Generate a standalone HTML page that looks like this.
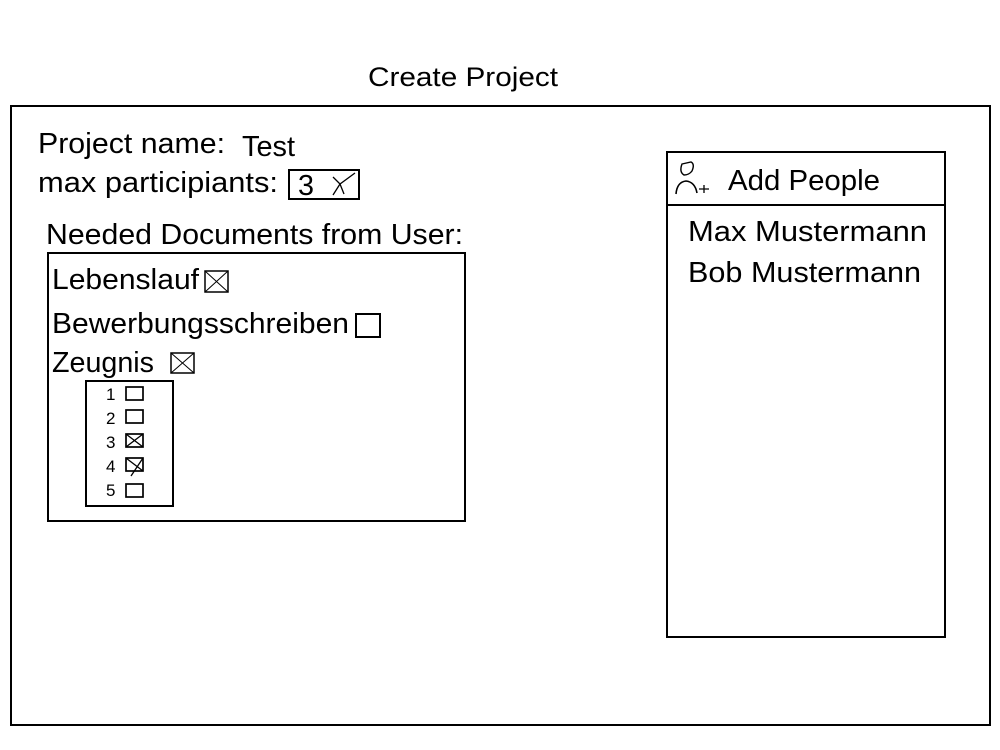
<!DOCTYPE html>
<html><head><meta charset="utf-8"><style>
html,body{margin:0;padding:0;background:#fff;}
svg{display:block;}
text{font-family:"Liberation Sans",sans-serif;fill:#000;}
</style></head><body>
<svg width="1000" height="750" viewBox="0 0 1000 750" xmlns="http://www.w3.org/2000/svg">
<rect x="0" y="0" width="1000" height="750" fill="#fff"/>
<text x="368" y="86" font-size="27" textLength="190" lengthAdjust="spacingAndGlyphs">Create Project</text>
<rect x="11" y="106" width="979" height="619" fill="none" stroke="#000" stroke-width="2"/>

<text x="38" y="153" font-size="29" textLength="187" lengthAdjust="spacingAndGlyphs">Project name:</text>
<text x="242" y="156" font-size="29" textLength="53" lengthAdjust="spacingAndGlyphs">Test</text>
<text x="38" y="192" font-size="29" textLength="240" lengthAdjust="spacingAndGlyphs">max participiants:</text>
<rect x="289" y="170" width="70" height="29" fill="none" stroke="#000" stroke-width="2"/>
<text x="298" y="195" font-size="29" textLength="16" lengthAdjust="spacingAndGlyphs">3</text>
<path d="M333 177 L340 184 L355 173 M340 184 L333 195 M340 184 L344 194" fill="none" stroke="#000" stroke-width="1.3"/>

<text x="46" y="244" font-size="29" textLength="417" lengthAdjust="spacingAndGlyphs">Needed Documents from User:</text>
<rect x="48" y="253" width="417" height="268" fill="none" stroke="#000" stroke-width="2"/>

<text x="52" y="289" font-size="29" textLength="147" lengthAdjust="spacingAndGlyphs">Lebenslauf</text>
<rect x="205" y="271" width="23" height="21" fill="none" stroke="#000" stroke-width="1.5"/>
<path d="M205 271 L228 292 M228 271 L205 292" stroke="#000" stroke-width="1"/>

<text x="52" y="333" font-size="29" textLength="297" lengthAdjust="spacingAndGlyphs">Bewerbungsschreiben</text>
<rect x="356" y="314" width="24" height="23" fill="none" stroke="#000" stroke-width="2"/>

<text x="52" y="372" font-size="29" textLength="102" lengthAdjust="spacingAndGlyphs">Zeugnis</text>
<rect x="171" y="353" width="23" height="20" fill="none" stroke="#000" stroke-width="1.5"/>
<path d="M171 353 L194 373 M194 353 L171 373" stroke="#000" stroke-width="1"/>

<rect x="86" y="381" width="87" height="125" fill="none" stroke="#000" stroke-width="2"/>
<g font-size="17">
<text x="106" y="400">1</text><text x="106" y="424">2</text><text x="106" y="448">3</text><text x="106" y="472">4</text><text x="106" y="496">5</text>
</g>
<g fill="none" stroke="#000" stroke-width="1.7">
<rect x="126" y="387" width="17" height="13"/>
<rect x="126" y="410" width="17" height="13"/>
<rect x="126" y="434" width="17" height="13"/>
<rect x="126" y="458" width="17" height="13"/>
<rect x="126" y="484" width="17" height="13"/>
</g>
<path d="M126 434 L143 447 M143 434 L126 447 M126 458 L143 471 M143 458 L131 476" stroke="#000" stroke-width="1.3" fill="none"/>

<rect x="667" y="152" width="278" height="485" fill="none" stroke="#000" stroke-width="2"/>
<line x1="667" y1="205" x2="945" y2="205" stroke="#000" stroke-width="2"/>
<path d="M682 164 L691 162 Q695 164 692 171 Q689 175 684 175 Q679 172 682 164 Z" fill="none" stroke="#000" stroke-width="1.4"/>
<path d="M676 194 Q677 182 686 181 Q695 182 697 193" fill="none" stroke="#000" stroke-width="1.6"/>
<path d="M699 189 L709 189 M704 185 L704 193" stroke="#000" stroke-width="1.3"/>
<text x="728" y="190" font-size="29" textLength="152" lengthAdjust="spacingAndGlyphs">Add People</text>
<text x="688" y="241" font-size="29" textLength="239" lengthAdjust="spacingAndGlyphs">Max Mustermann</text>
<text x="688" y="282" font-size="29" textLength="233" lengthAdjust="spacingAndGlyphs">Bob Mustermann</text>
</svg>
</body></html>
